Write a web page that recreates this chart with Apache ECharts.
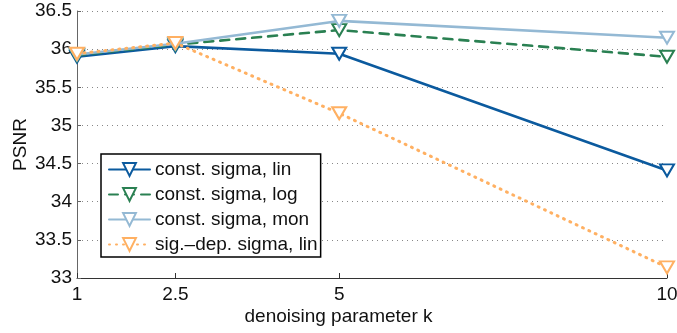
<!DOCTYPE html>
<html>
<head>
<meta charset="utf-8">
<script src="https://cdn.jsdelivr.net/npm/echarts@6/dist/echarts.min.js"></script>
<style>
  html, body { margin: 0; padding: 0; background: #fff; }
  #chart { width: 677px; height: 333px; }
</style>
</head>
<body>
<div id="chart"></div>
<script>
// denoising parameter k
const kValues = [1, 2.5, 5, 10];
const xTicks = [1, 2.5, 5, 10];

// PSNR per configuration
const constSigmaLin = [35.90, 36.04, 35.94, 34.41];
const constSigmaLog = [35.92, 36.06, 36.25, 35.90];
const constSigmaMon = [35.93, 36.07, 36.37, 36.15];
const sigDepSigmaLin = [35.94, 36.08, 35.16, 33.14];

const seriesNames = [
  'const. sigma, lin',
  'const. sigma, log',
  'const. sigma, mon',
  'sig.\u2013dep. sigma, lin'
];

const FONT = 'Liberation Sans, Arial, sans-serif';
const FS = 19;

function pairs(ys) {
  return kValues.map((k, i) => [k, ys[i]]);
}

function lineSeries(name, ys, color, dash, width, z) {
  return {
    name: name,
    type: 'line',
    data: pairs(ys),
    z: z,
    symbol: 'emptyTriangle',
    symbolRotate: 180,
    symbolSize: [14, 12],
    showAllSymbol: true,
    itemStyle: { color: color, borderColor: color, borderWidth: 2 },
    lineStyle: { color: color, width: width, type: dash, cap: 'round' },
    emphasis: { disabled: true },
    animation: false
  };
}

const chart = echarts.init(document.getElementById('chart'), null, { renderer: 'canvas' });
chart.setOption({
  backgroundColor: '#fff',
  animation: false,
  textStyle: { fontFamily: FONT },
  grid: { left: 77, right: 10, top: 11, bottom: 55, containLabel: false, outerBoundsMode: 'none' },
  xAxis: {
    type: 'value',
    min: 1,
    max: 10,
    name: 'denoising parameter k',
    nameLocation: 'middle',
    nameGap: 29,
    nameMoveOverlap: false,
    // title sits centred on the whole figure rather than the plot area
    nameTextStyle: { fontSize: FS, color: '#111', fontFamily: FONT, padding: [0, 67, 0, 0] },
    axisLine: { show: true, lineStyle: { color: '#333', width: 1 } },
    axisTick: { show: true, inside: true, length: 5, customValues: xTicks, lineStyle: { color: '#333' } },
    axisLabel: { customValues: xTicks, fontSize: FS, color: '#111', margin: 7, fontFamily: FONT },
    splitLine: { show: false }
  },
  yAxis: {
    type: 'value',
    min: 33,
    max: 36.5,
    interval: 0.5,
    name: 'PSNR',
    nameLocation: 'middle',
    nameGap: 47,
    nameMoveOverlap: false,
    nameTextStyle: { fontSize: FS, color: '#111', fontFamily: FONT },
    axisLine: { show: true, lineStyle: { color: '#666', width: 1 } },
    axisTick: { show: true, inside: true, length: 4, lineStyle: { color: '#666' } },
    axisLabel: { fontSize: FS, color: '#111', margin: 5, fontFamily: FONT },
    splitLine: { show: true, lineStyle: { color: '#888', width: 1, type: [1, 4] } }
  },
  legend: {
    orient: 'vertical',
    left: 101,
    top: 154,
    padding: [6, 3, 3, 7],
    itemWidth: 41,
    itemHeight: 16,
    itemGap: 6,
    backgroundColor: '#fff',
    borderColor: '#000',
    borderWidth: 1.5,
    borderRadius: 0,
    textStyle: { fontSize: FS, color: '#111', fontFamily: FONT },
    data: seriesNames
  },
  series: [
    lineSeries(seriesNames[0], constSigmaLin, '#0b5a9e', 'solid', 2.6, 2),
    lineSeries(seriesNames[1], constSigmaLog, '#2a8052', [9, 7], 2.6, 3),
    lineSeries(seriesNames[2], constSigmaMon, '#94b9d4', 'solid', 2.6, 4),
    lineSeries(seriesNames[3], sigDepSigmaLin, '#ffb062', [1, 6], 3, 5)
  ]
});
</script>
</body>
</html>
